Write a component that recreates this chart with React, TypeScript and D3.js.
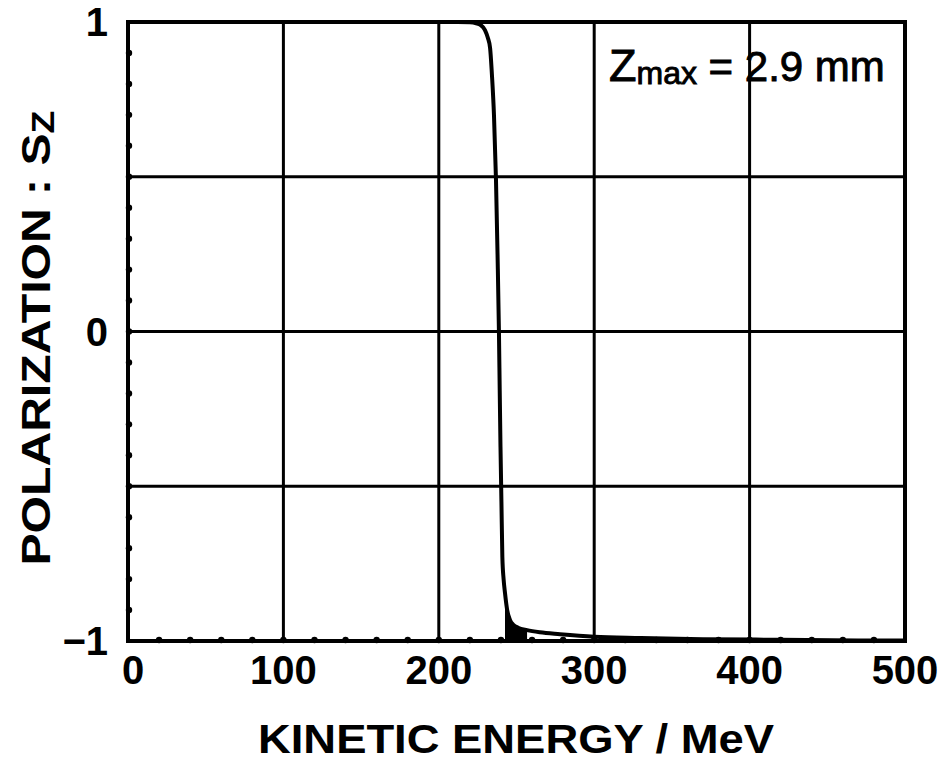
import { useEffect, useRef } from "react";
import * as d3 from "d3";

// curve: kinetic energy (MeV) vs polarization Sz
const energy = [0, 100, 200, 212, 220, 224, 227, 229.7, 231.5, 233, 234.3, 235.5, 236.8, 237.8, 238.7, 239.2, 239.7, 240.3, 240.9, 241.7, 242.6, 244, 245.8, 248, 251, 256.8, 265, 278, 300, 330, 370, 420, 470, 500];
const sz = [1, 1, 1, 1, 0.999, 0.996, 0.99, 0.974, 0.95, 0.916, 0.82, 0.7, 0.49, 0.25, 0.0, -0.19, -0.373, -0.55, -0.729, -0.8, -0.845, -0.9, -0.932, -0.948, -0.957, -0.965, -0.972, -0.978, -0.986, -0.99, -0.994, -0.996, -0.998, -0.998];
// dense band of oscillations just after the flip
const bandEnergy = [242.6, 244, 245.8, 248, 251, 256.8];
const bandSz = [-0.845, -0.9, -0.932, -0.948, -0.957, -0.965];

const xTicks = [0, 100, 200, 300, 400, 500];
const yTicks = [-1, 0, 1];
const yTickLabels = ["\u22121", "0", "1"];
const xGrid = [100, 200, 300, 400];
const yGrid = [-0.5, 0, 0.5];
const xMinor = d3.range(20, 500, 20);
const yMinor = d3.range(-0.9, 0.95, 0.1);

const W = 943;
const H = 764;
const FONT = "'Liberation Sans', Arial, sans-serif";

export default function App() {
  const ref = useRef<SVGSVGElement>(null);

  useEffect(() => {
    const svg = d3.select(ref.current);
    svg.selectAll("*").remove();

    const x = d3.scaleLinear().domain([0, 500]).range([128, 905]);
    const y = d3.scaleLinear().domain([-1, 1]).range([641, 22]);

    // grid
    svg.append("g")
      .selectAll("line")
      .data(xGrid)
      .join("line")
      .attr("x1", (d) => x(d)).attr("x2", (d) => x(d))
      .attr("y1", y(-1)).attr("y2", y(1))
      .attr("stroke", "#000").attr("stroke-width", 3);
    svg.append("g")
      .selectAll("line")
      .data(yGrid)
      .join("line")
      .attr("x1", x(0)).attr("x2", x(500))
      .attr("y1", (d) => y(d)).attr("y2", (d) => y(d))
      .attr("stroke", "#000").attr("stroke-width", 3);

    // frame
    svg.append("rect")
      .attr("x", x(0)).attr("y", y(1))
      .attr("width", x(500) - x(0)).attr("height", y(-1) - y(1))
      .attr("fill", "none").attr("stroke", "#000").attr("stroke-width", 4);

    // minor tick dots on bottom and left axes
    svg.append("g")
      .selectAll("circle")
      .data(xMinor)
      .join("circle")
      .attr("cx", (d) => x(d)).attr("cy", y(-1) - 1).attr("r", 3.2).attr("fill", "#000");
    svg.append("g")
      .selectAll("circle")
      .data(yMinor)
      .join("circle")
      .attr("cx", x(0) + 1).attr("cy", (d) => y(d)).attr("r", 3.2).attr("fill", "#000");

    // filled band under the tail right after the flip
    const band = bandEnergy.map((e, i) => [e, bandSz[i]] as [number, number]);
    svg.append("path")
      .datum(band)
      .attr("fill", "#000")
      .attr("d", d3.area<[number, number]>()
        .x((d) => x(d[0]))
        .y0(y(-1))
        .y1((d) => y(d[1]))
        .curve(d3.curveMonotoneX));

    // curve
    const pts = energy.map((e, i) => [e, sz[i]] as [number, number]);
    svg.append("path")
      .datum(pts)
      .attr("fill", "none")
      .attr("stroke", "#000")
      .attr("stroke-width", 4)
      .attr("stroke-linejoin", "round")
      .attr("d", d3.line<[number, number]>().x((d) => x(d[0])).y((d) => y(d[1])).curve(d3.curveMonotoneX));

    // x tick labels
    svg.append("g")
      .selectAll("text")
      .data(xTicks)
      .join("text")
      .attr("x", (d) => x(d) + (d === 0 ? 5 : 0))
      .attr("y", 684)
      .attr("text-anchor", "middle")
      .attr("font-family", FONT).attr("font-weight", "bold").attr("font-size", 40)
      .text((d) => String(d));

    // y tick labels
    svg.append("g")
      .selectAll("text")
      .data(yTicks)
      .join("text")
      .attr("x", 108)
      .attr("y", (d) => y(d) + 14)
      .attr("text-anchor", "end")
      .attr("font-family", FONT).attr("font-weight", "bold").attr("font-size", 40)
      .text((d, i) => yTickLabels[i]);

    // x title
    svg.append("text")
      .attr("x", 516).attr("y", 753)
      .attr("text-anchor", "middle")
      .attr("font-family", FONT).attr("font-weight", "bold").attr("font-size", 40)
      .attr("textLength", 516).attr("lengthAdjust", "spacingAndGlyphs")
      .text("KINETIC ENERGY / MeV");

    // y title
    const yt = svg.append("text")
      .attr("transform", "translate(50,338) rotate(-90)")
      .attr("text-anchor", "middle")
      .attr("font-family", FONT).attr("font-weight", "bold").attr("font-size", 41)
      .attr("textLength", 455).attr("lengthAdjust", "spacingAndGlyphs");
    yt.append("tspan").text("POLARIZATION : S");
    yt.append("tspan").attr("font-size", 32).attr("dy", 4).text("Z");

    // annotation
    const ann = svg.append("text")
      .attr("x", 609).attr("y", 81)
      .attr("font-family", FONT).attr("font-size", 42)
      .attr("stroke", "#000").attr("stroke-width", 0.9);
    ann.append("tspan").attr("font-size", 45).text("Z");
    ann.append("tspan").attr("font-size", 32).attr("dy", 3).text("max");
    ann.append("tspan").attr("dy", -3).text(" = 2.9 mm");
  }, []);

  return (
    <svg
      ref={ref}
      width={W}
      height={H}
      style={{ position: "absolute", left: 0, top: 0, background: "#fff" }}
    />
  );
}
